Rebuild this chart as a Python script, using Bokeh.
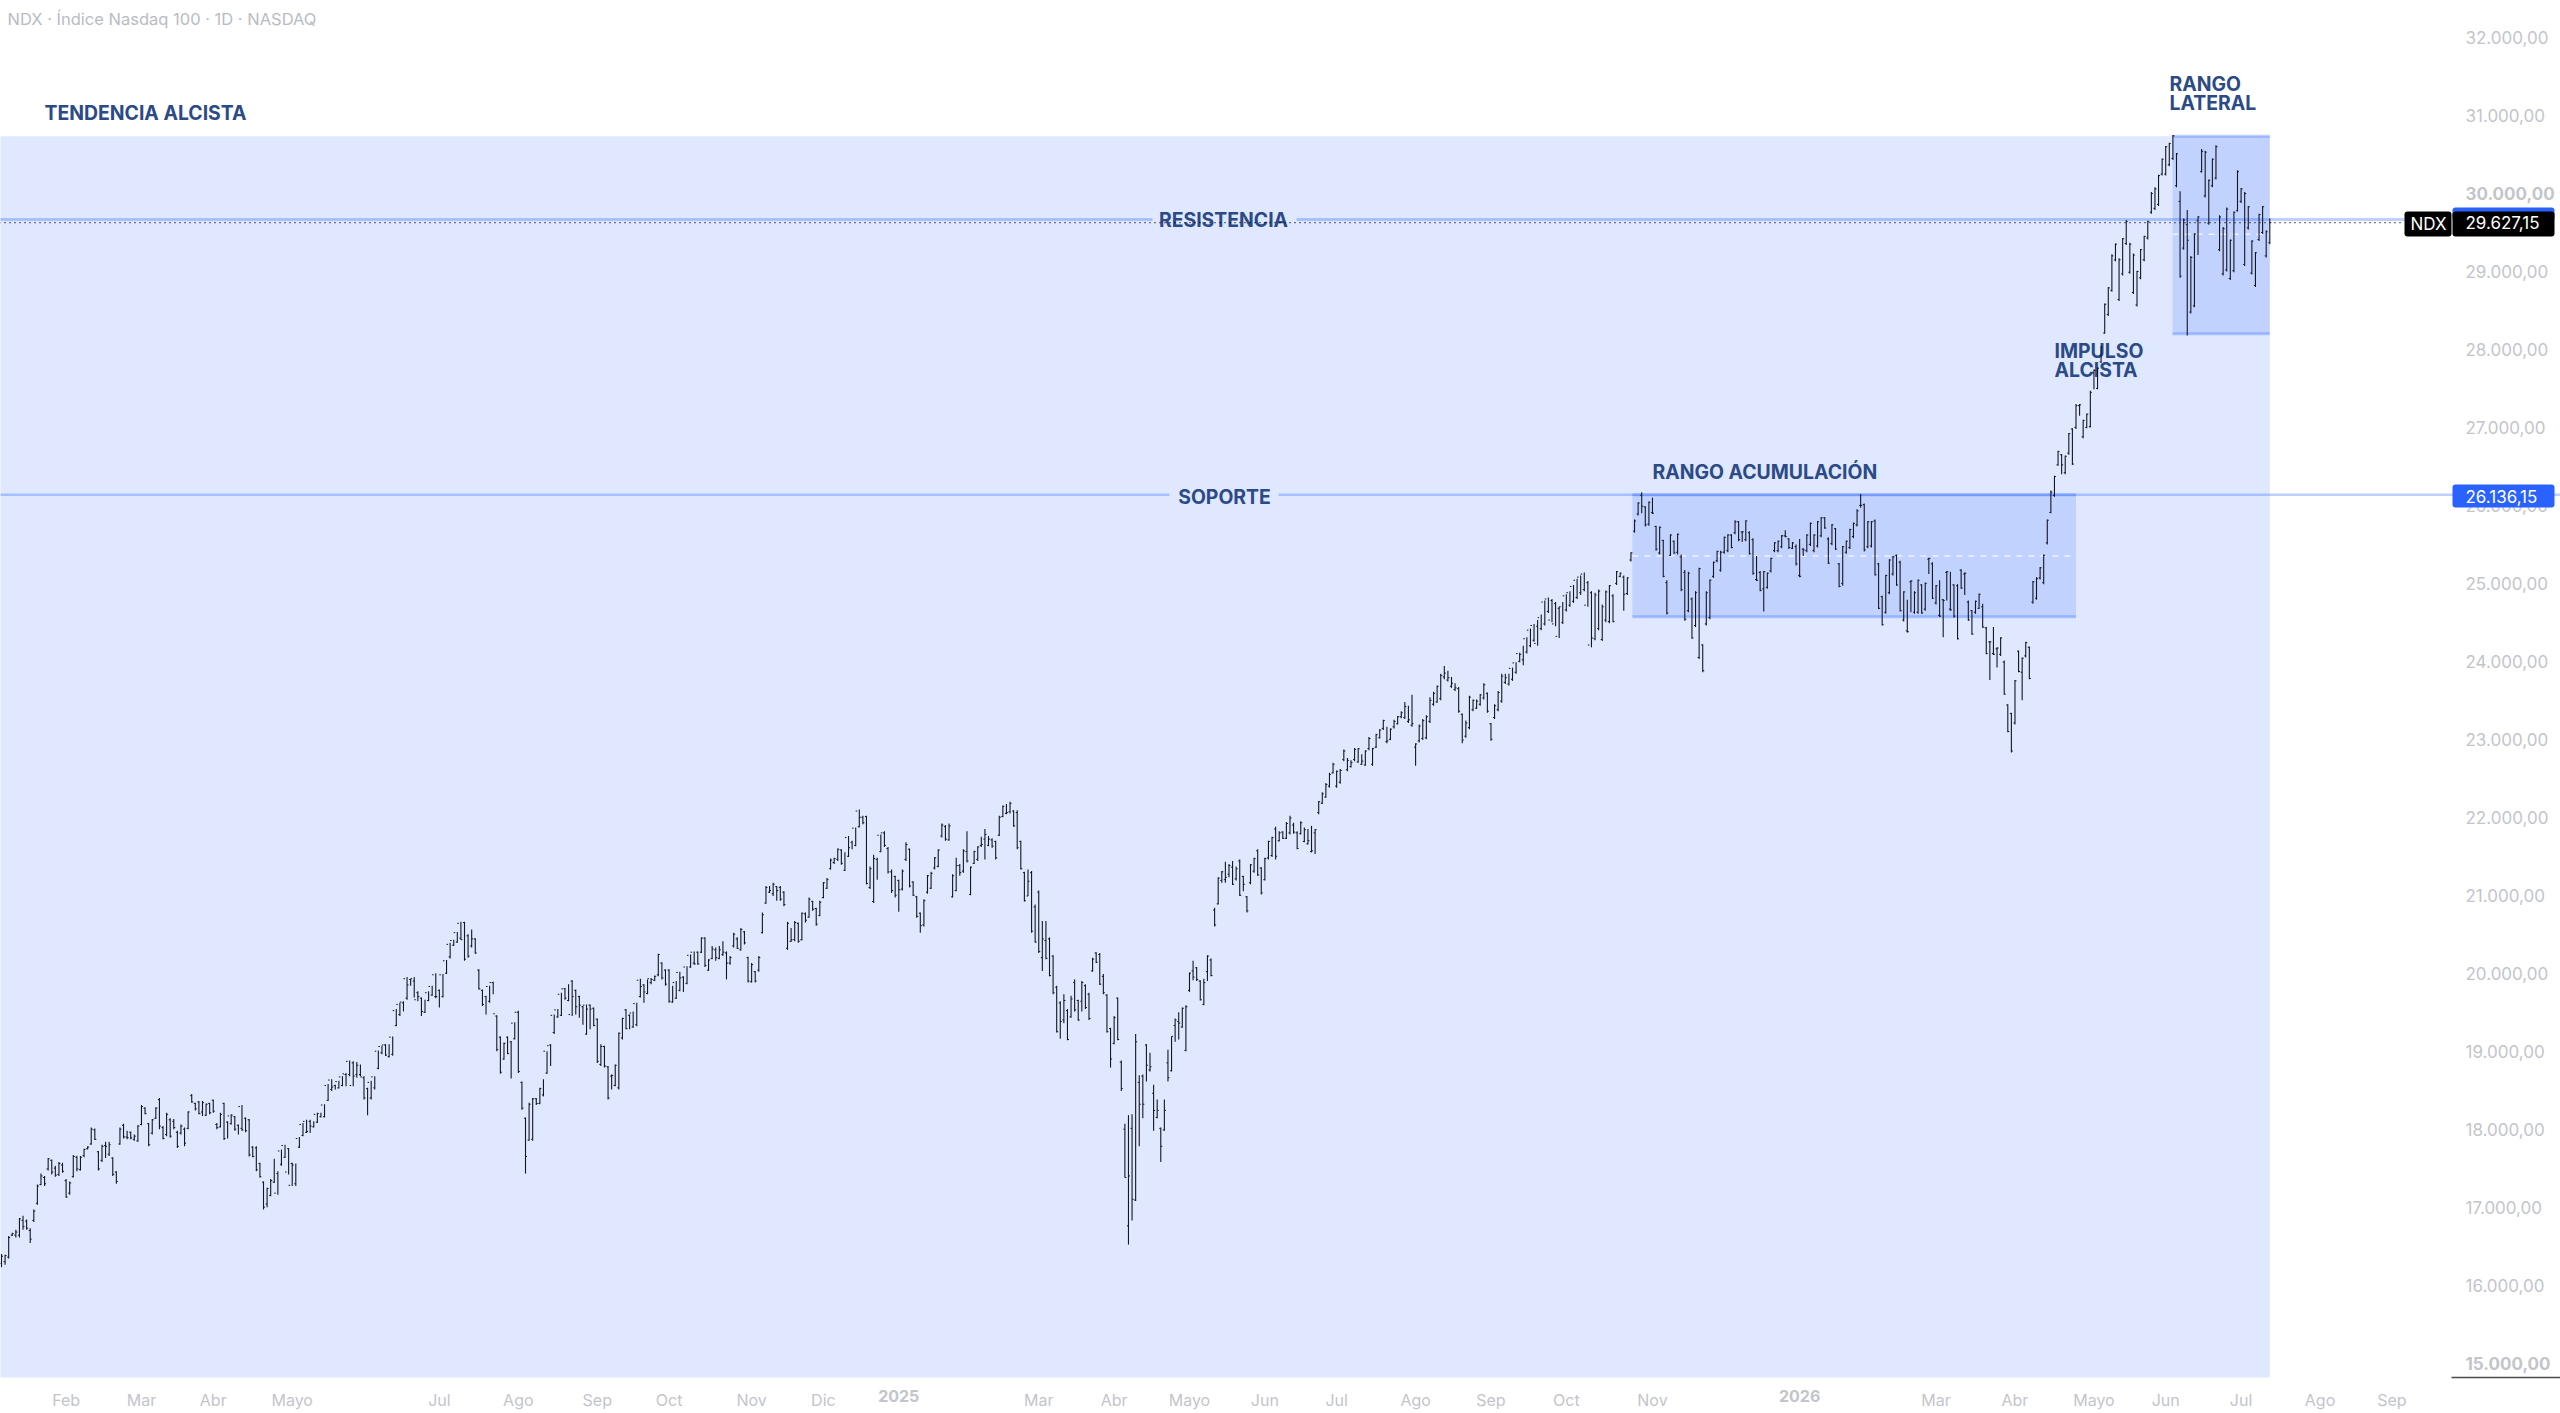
from bokeh.plotting import figure
from bokeh.embed import file_html
from bokeh.resources import INLINE
from bokeh.core.properties import value
from bokeh.models import Range1d, LinearAxis, FixedTicker, BoxAnnotation, Label

TITLE = "NDX · Índice Nasdaq 100 · 1D · NASDAQ"

highs = [
16400,16390,16630,16670,16710,16860,16890,16840,16730,16970,
17290,17430,17400,17630,17610,17530,17580,17570,17360,17330,
17670,17660,17655,17750,17780,18020,18010,17720,17800,17840,
17840,17640,17460,18020,18070,17980,17970,17930,18050,18310,
18280,18080,18130,18280,18400,18040,18210,18140,18130,17980,
18060,18020,18230,18450,18340,18360,18360,18330,18340,18380,
18080,18210,18340,18100,18190,18170,18060,18310,18150,18130,
17780,17780,17570,17330,17250,17360,17620,17460,17740,17800,
17760,17570,17560,17900,18080,18120,18120,18100,18210,18210,
18320,18580,18640,18570,18620,18680,18720,18880,18870,18860,
18830,18680,18530,18620,18680,19010,19070,19090,19090,19190,
19540,19620,19640,19950,19930,19950,19770,19690,19660,19770,
19840,20000,19790,19990,20170,20390,20430,20530,20660,20660,
20500,20560,20450,20050,19790,19710,19840,19890,19460,19190,
19110,19190,19130,19370,19520,18610,18150,18340,18400,18400,
18530,18640,19000,19090,19470,19540,19750,19810,19860,19910,
19790,19710,19580,19600,19600,19560,19420,19090,19070,18810,
18700,18830,19240,19430,19540,19470,19510,19620,19930,19860,
19920,19940,19970,20250,20140,20050,20050,19840,19900,20020,
19960,20090,20240,20280,20280,
20460,20460,20180,20350,20330,20350,20410,20280,20220,20520,
20460,20580,20540,20210,20130,20030,20220,20780,21120,21120,
21160,21120,21120,21050,20660,20580,20670,20650,20780,20780,
20970,20930,20840,20930,21170,21220,21470,21480,21600,21590,
21550,21760,21700,21870,22100,22020,22020,21370,21520,21480,
21780,21820,21620,21330,21250,21200,21330,21680,21600,21180,
20990,20780,20950,21260,21300,21490,21590,21920,21900,21920,
21270,21480,21400,21590,21820,21370,21570,21630,21750,21850,
21760,21730,21700,22020,22150,22170,22200,22090,22090,
21700,21300,21330,21310,20880,21060,20670,20670,20460,20230,
19840,19640,19730,19540,19710,19920,19660,19900,19860,19750,
20200,20270,20260,19990,19730,19300,19450,19690,18880,18070,
18180,18190,19220,18690,18700,19090,18980,18570,18380,18020,
18380,19020,19190,19420,19500,19560,19590,20010,20160,20080,
19910,19930,20230,20190,20840,21230,21310,21430,21400,21440,
21370,21460,21250,20990,21400,21480,21590,21360,21480,21700,
21750,21880,21820,21820,21940,22020,21930,21820,
21950,21870,21850,21890,21850,22210,22320,22440,22570,22700,
22600,22620,22870,22760,22730,22890,22890,22810,22860,23030,
22890,23070,23130,23250,23160,23140,23250,23300,23360,23480,
23430,23570,22950,23190,23260,23310,23540,23610,23690,23840,
23940,23880,23800,23720,23670,23330,23240,23560,23510,23510,
23580,23720,23600,23210,23450,23620,23840,23840,23840,23920,
23990,24110,
24200,24310,24420,24480,24530,24600,24780,24820,24800,24760,
24700,24760,24860,24900,24980,25060,25100,25140,25030,24900,
24880,24920,
24730,24910,24980,24860,25160,25140,25100,25080,25400,25820,
26040,26170,25990,26050,26100,25740,25730,25560,25040,25630,
25550,25640,25370,25170,25150,24820,24900,25200,24220,24900,
25050,25280,25420,25420,25600,25630,25630,25810,25800,25670,
25810,25670,25580,25350,25160,25160,25140,25330,25530,25550,
25620,25680,25580,25530,25500,25570,25450,25630,25780,25630,
25800,25850,25850,25590,25760,25710,25260,25480,25550,25700,
25780,25950,26145,26025,25800,25800,25820,25260,24840,25110,
25310,25350,25370,25290,24900,24790,25040,24900,25050,24990,
25010,25330,25270,24980,25040,24800,25160,25150,24990,24990,
25180,25140,24780,24660,24780,24870,24740,24440,24260,24440,
24180,24310,24010,23450,23340,23760,24140,24050,24250,24190,
25030,25080,25210,25370,25820,26190,26380,26700,26660,26640,
26930,26990,
27300,27300,27100,27180,27470,27745,27770,
28040,28590,28800,29220,29360,29170,29430,29660,29370,29230,
29010,29290,29460,29650,30020,30080,30240,30450,30610,30650,
30750,30520,30030,29680,29790,29200,29490,29710,30570,30550,
30180,30450,30620,29720,29570,29820,29410,29770,30300,30070,
30020,29840,29400,29250,29740,29840,29530,29680,
]

lows = [
16230,16260,16340,16630,16610,16610,16710,16710,16540,16810,
17030,17280,17270,17470,17420,17390,17400,17440,17120,17160,
17380,17460,17470,17640,17740,17800,17860,17470,17580,17630,
17655,17400,17300,17800,17880,17870,17870,17850,17840,18050,
18190,17780,17930,18130,18000,17870,17910,17890,18000,17760,
17930,17780,18000,18340,18240,18190,18170,18170,18190,18210,
18000,18020,17860,17880,18060,17980,17930,17980,17960,17650,
17640,17460,17380,16970,17000,17140,17310,17160,17530,17630,
17420,17270,17270,17760,17910,17950,17950,18020,18080,18150,
18150,18360,18490,18510,18520,18550,18550,18680,18550,18660,
18680,18380,18180,18380,18510,18770,18960,18940,18920,18940,
19320,19450,19510,19660,19840,19690,19640,19450,19490,19640,
19710,19680,19560,19690,19990,20190,20350,20390,20430,20160,
20200,20330,20250,19790,19580,19470,19620,19730,19000,18710,
18890,18960,18650,19150,18720,18250,17430,17850,17850,18310,
18320,18420,18710,18810,19220,19430,19450,19660,19640,19450,
19470,19430,19340,19210,19280,19320,18850,18810,18790,18380,
18510,18550,18510,19150,19280,19280,19300,19320,19690,19620,
19730,19860,19900,19960,19920,19840,19620,19620,19670,19770,
19760,19860,20070,20110,20110,
20260,20080,20030,20180,20160,20180,20220,19920,20110,20330,
20310,20290,20370,19880,19880,19880,20020,20510,20890,21030,
20990,20930,20930,20860,20300,20400,20410,20390,20420,20650,
20710,20800,20610,20730,20960,21080,21330,21400,21440,21390,
21310,21490,21590,21630,21870,21910,21140,21080,20900,21200,
21550,21620,21280,21030,20970,20790,21060,21440,21100,20990,
20710,20520,20600,21020,21080,21330,21360,21740,21700,21700,
20970,21050,21250,21290,21420,21000,21400,21440,21620,21460,
21630,21610,21460,21760,22000,22040,22050,21880,21590,
21330,20920,20990,20520,20390,20260,20030,20180,19960,19730,
19240,19160,19360,19140,19430,19510,19390,19510,19540,19400,
20020,20130,19850,19730,19240,18790,19090,19140,18490,17380,
16520,16830,17080,17780,18140,18610,18740,17980,18140,17580,
17980,18610,18740,19120,19150,19300,19000,19760,19910,19900,
19650,19590,19900,19960,20600,20880,21160,21160,21230,21130,
21190,20990,21050,20780,21140,21290,21250,21010,21190,21460,
21490,21460,21690,21720,21720,21780,21790,21590,
21780,21680,21650,21550,21530,22040,22170,22250,22380,22560,
22380,22430,22720,22590,22640,22720,22700,22670,22660,22860,
22660,22890,23010,23120,22950,22990,23140,23190,23270,23260,
23210,23160,22660,22960,22990,23000,23210,23430,23470,23500,
23770,23740,23660,23620,23340,22950,23020,23130,23360,23390,
23430,23510,23340,22980,23260,23360,23470,23710,23690,23750,
23840,23990,
23950,24100,24180,24250,24200,24400,24460,24620,24500,24450,
24300,24480,24640,24700,24750,24800,24850,24900,24700,24180,
24270,24400,
24260,24500,24490,24500,24980,25080,24650,24850,25280,25650,
25870,25900,25730,25740,25890,25420,25370,25080,24600,25350,
25380,25370,24900,24520,24630,24290,24440,24030,23860,24460,
24540,25070,25270,25150,25380,25400,25450,25630,25540,25530,
25540,25370,25110,25030,24900,24640,24930,25140,25400,25400,
25450,25590,25440,25440,25230,25080,25350,25400,25480,25400,
25460,25590,25700,25250,25490,25430,24950,24970,25380,25440,
25580,25730,25970,25410,25450,25460,25100,24670,24460,24610,
24860,25100,24970,24640,24510,24370,24630,24610,24610,24610,
24650,25120,24800,24730,24570,24310,24780,24650,24560,24280,
24930,24850,24520,24340,24610,24670,24430,24090,23760,24080,
23920,24070,23570,23090,22830,23190,23860,23500,24050,23770,
24740,24790,25050,24990,25500,25900,26110,26510,26400,26400,
26650,26520,
26980,27150,26860,26990,27000,27490,27490,
27830,28200,28430,28740,29130,28620,28950,29340,28970,28710,
28550,28900,29130,29410,29740,29790,29840,30230,30230,30350,
30430,30080,28920,29280,28180,28460,28540,29210,30270,29950,
29600,30080,30180,29260,28950,29000,28890,28990,29770,29880,
29070,29540,28960,28800,29390,29480,29180,29350,
]

opens = [
16280,16300,16360,16640,16640,16640,16830,16820,16700,16830,
17050,17290,17380,17490,17600,17500,17420,17540,17340,17180,
17390,17640,17480,17660,17750,17810,17990,17710,17600,17790,
17680,17630,17450,17810,18050,17900,17960,17870,17850,18060,
18270,18070,17950,18140,18380,18020,17930,18120,18100,17960,
17950,18000,18010,18430,18330,18350,18220,18180,18330,18370,
18060,18030,18330,18090,18070,18160,18050,18010,18140,18120,
17770,17760,17560,17320,17040,17150,17320,17430,17550,17640,
17750,17560,17300,17770,17920,17960,18100,18030,18090,18160,
18160,18370,18510,18560,18530,18560,18700,18700,18850,18700,
18700,18660,18520,18400,18530,18780,18980,19080,18930,18960,
19330,19470,19620,19680,19920,19900,19750,19680,19500,19650,
19720,19700,19780,19700,20000,20210,20360,20400,20450,20650,
20480,20350,20440,20040,19780,19700,19640,19880,19450,19180,
18900,19180,19120,19160,19500,18600,18140,17860,17870,18390,
18330,18440,18720,19080,19240,19440,19460,19800,19650,19900,
19780,19700,19570,19220,19590,19550,19410,18830,19060,18800,
18680,18560,18530,19170,19530,19460,19310,19340,19700,19850,
19740,19880,19910,19980,20130,20040,20040,19630,19680,19780,
19950,19870,20080,20130,20270,
20270,20450,20040,20190,20300,20190,20240,20260,20130,20350,
20440,20300,20530,20200,19890,20020,20040,20520,20900,21040,
21020,21110,21100,21040,20320,20410,20430,20640,20430,20760,
20720,20920,20830,20740,20970,21090,21340,21420,21460,21580,
21320,21500,21680,21640,21880,22000,22010,21100,20920,21460,
21560,21800,21600,21300,21240,21190,21080,21460,21590,21170,
20980,20770,20620,21040,21090,21350,21370,21760,21880,21710,
20980,21060,21380,21310,21560,21010,21410,21460,21640,21720,
21640,21710,21690,21770,22010,22050,22070,22080,22060,
21690,21290,20990,21290,20850,21040,20200,20420,20440,20220,
19820,19620,19400,19520,19440,19880,19650,19640,19840,19730,
20030,20260,20240,19960,19720,19290,19100,19680,18860,18000,
16760,18010,17090,18600,18680,19080,18760,18460,18150,18010,
17990,18850,18750,19330,19380,19310,19010,19780,20030,20070,
19900,19600,20020,20170,20810,20890,21190,21200,21270,21360,
21210,21440,21240,20980,21160,21310,21570,21350,21200,21480,
21510,21850,21700,21810,21730,21800,21900,21800,
21790,21690,21660,21560,21800,22060,22180,22260,22400,22570,
22400,22450,22740,22610,22650,22740,22710,22680,22670,22880,
22680,22900,23020,23140,22970,23000,23160,23200,23290,23280,
23230,23180,22900,22980,23010,23020,23230,23450,23480,23520,
23800,23760,23680,23640,23650,23320,23040,23150,23380,23400,
23450,23530,23590,23200,23280,23380,23490,23730,23710,23770,
23860,24000,
24020,24120,24200,24270,24450,24420,24480,24640,24780,24740,
24680,24500,24660,24720,24770,24820,24880,24920,25010,24880,
24290,24420,
24280,24530,24510,24840,25000,25090,25080,24870,25300,25670,
25890,26130,25980,25760,25910,25730,25390,25550,25010,25360,
25540,25400,25340,25140,24650,24800,24460,24050,24210,24480,
24560,25090,25290,25170,25400,25420,25620,25650,25790,25660,
25560,25650,25560,25050,25140,24930,24950,25160,25420,25420,
25470,25610,25570,25450,25470,25100,25440,25420,25500,25420,
25480,25610,25840,25570,25510,25700,25250,25000,25400,25460,
25600,25750,26000,26010,25470,25480,25800,25250,24830,24630,
24880,25120,25360,25270,24530,24390,25020,24630,24630,24980,
24670,25310,25250,24750,24590,24790,25140,24670,24980,24970,
25170,25120,24760,24650,24630,24680,24700,24430,24250,24100,
24160,24090,23990,23440,23330,23210,24130,23860,24070,24180,
24760,24810,25070,25010,25520,25910,26130,26520,26650,26420,
26670,26980,
27000,27280,26880,27000,27010,27700,27500,
27840,28210,28450,28760,29150,28640,28970,29360,28990,28730,
28570,28920,29150,29430,29760,29810,29860,30250,30250,30370,
30450,30100,29900,29300,29600,28480,28560,29650,30280,29970,
29620,30100,30200,29280,28970,29020,28910,29010,29780,29900,
29090,29560,28980,28820,29410,29500,29200,29370,
]

closes = [
16370,16380,16610,16660,16680,16850,16750,16730,16590,16950,
17270,17400,17300,17620,17450,17410,17560,17460,17130,17310,
17650,17490,17640,17740,17770,18000,17870,17490,17780,17780,
17800,17420,17330,18000,17900,17890,17890,17910,18040,18290,
18200,17800,18120,18270,18040,17880,18190,17910,18020,17780,
18040,17820,18220,18350,18260,18200,18340,18320,18210,18230,
18020,18190,17880,18170,18180,18000,18290,17990,17980,17670,
17650,17480,17390,17000,17240,17340,17180,17720,17790,17450,
17280,17540,17880,18060,18100,17970,18040,18190,18200,18310,
18560,18630,18540,18610,18670,18710,18870,18560,18680,18820,
18670,18400,18600,18670,19000,19060,19080,18950,19180,19520,
19600,19630,19930,19850,19930,19660,19700,19510,19750,19830,
19980,19700,19980,20160,20370,20420,20520,20640,20430,20180,
20220,20440,20260,19800,19600,19830,19880,19480,19020,18730,
19100,18970,19360,19500,18740,18270,17650,18320,18390,18330,
18520,19000,19070,19460,19530,19730,19800,19680,19470,19700,
19570,19590,19590,19540,19540,19330,18870,19060,18810,18400,
18690,18820,19230,19420,19290,19490,19610,19910,19830,19760,
19930,19920,19960,20240,19940,19860,19640,19880,20010,19940,
20080,20230,20270,20120,20120,
20450,20100,20170,20310,20200,20300,20270,20130,20200,20500,
20320,20560,20390,19900,20110,19900,20200,20750,21100,21060,
21140,21060,20950,20880,20640,20430,20650,20410,20770,20680,
20950,20820,20630,20910,21160,21200,21450,21470,21590,21410,
21740,21610,21860,22080,22000,21930,21150,21340,21470,21770,
21800,21640,21300,21060,21000,21070,21310,21650,21120,21000,
20730,20610,20930,21250,21280,21480,21580,21900,21720,21890,
21250,21380,21290,21570,21440,21360,21560,21620,21650,21780,
21720,21630,21480,22000,22140,22060,22180,21890,21610,
21340,20930,21180,20540,20400,20280,20440,20190,19970,19750,
19250,19380,19650,19150,19670,19530,19400,19880,19560,19420,
20180,20140,19860,19750,19250,18900,19430,19150,18520,17380,
17400,17100,19120,18320,18320,18820,18800,18240,18240,17780,
18240,18660,19190,19400,19360,19550,19570,20000,19950,19920,
19660,19880,20220,19970,20620,21220,21300,21230,21380,21140,
21340,21000,21140,20800,21390,21470,21260,21030,21470,21690,
21740,21500,21800,21730,21920,21990,21810,21600,
21930,21840,21700,21570,21840,22200,22300,22420,22550,22680,
22590,22600,22850,22730,22700,22870,22880,22720,22850,23010,
22880,23060,23120,23240,22980,23130,23230,23290,23340,23420,
23250,23200,22940,23170,23240,23290,23500,23590,23680,23820,
23850,23790,23720,23660,23360,22990,23210,23540,23500,23490,
23570,23700,23360,23000,23430,23600,23810,23790,23910,23980,
24100,24090,
24290,24400,24460,24230,24560,24760,24800,24530,24480,24320,
24700,24840,24880,24960,25040,25080,25120,24720,24210,24300,
24850,24900,
24700,24890,24970,24510,25150,25130,24860,25070,25390,25800,
26030,25990,25750,26040,25900,25440,25720,25090,24620,25620,
25390,25630,24920,24540,25130,24300,24880,25190,23880,24880,
25040,25270,25410,25400,25590,25620,25460,25790,25560,25660,
25800,25380,25130,25040,24910,25150,25130,25320,25520,25540,
25610,25600,25460,25520,25250,25090,25430,25620,25770,25620,
25790,25840,25710,25260,25750,25440,24960,25470,25540,25690,
25770,25930,26000,25430,25790,25790,25110,24680,24470,25100,
25300,25340,24980,24650,24890,24380,25030,24880,25040,24620,
25000,25320,24810,24970,24580,24780,25150,24660,24580,24290,
24940,25130,24530,24350,24770,24860,24440,24100,24250,24090,
24170,24300,23580,23100,22850,23750,23870,24040,24240,23780,
25020,25060,25200,25360,25810,26170,26370,26690,26520,26630,
26920,26530,
27280,27290,27090,27170,27450,27730,27760,
28030,28580,28790,29200,29350,29150,29420,29640,29350,29210,
29000,29280,29450,29640,30000,30060,30230,30440,30600,30640,
30740,30510,28940,29660,29400,29180,29480,29700,30540,30530,
30170,30440,30600,29700,29550,29800,29400,29760,30280,30060,
30000,29830,29390,29240,29730,29830,29510,29627.15,
]

price_ticks = [32000,31000,29000,28000,27000,26000,25000,24000,23000,22000,21000,20000,19000,18000,17000,16000]
bold_price_ticks = [30000,15000]
month_ticks = [18,39,59,81,122,144,166,186,209,229,289,310,331,352,372,394,415,436,460,539,561,583,603,624,646,666]
month_labels = ["Feb","Mar","Abr","Mayo","Jul","Ago","Sep","Oct","Nov","Dic","Mar","Abr","Mayo","Jun","Jul","Ago","Sep","Oct","Nov","Mar","Abr","Mayo","Jun","Jul","Ago","Sep"]
year_ticks = [250,501]
year_labels = ["2025","2026"]

zone_left = [454.4, 604.9]
zone_right = [578, 632]
zone_top = [26136.15, 30733]
zone_bottom = [24573, 28203]
zone_mid = [25350, 29478]
trend_top = 30733
resistance_level = 29666
support_level = 26136.15
last_price = 29627.15

N = min(len(highs), len(lows), len(opens), len(closes))
STEP = 2268.3 / (N - 1)
PX_PER_UNIT = 0.07797
Y_LOW = 14815
Y_HIGH = Y_LOW + 1377 / PX_PER_UNIT
INK = "#131722"
LABEL = "#2b4a86"
AXIS_TXT = "#c3c5ca"
BLUE = "#2962ff"

def xp(px):
    return (px - 1) / STEP

def yp(py):
    return Y_HIGH - py / PX_PER_UNIT

def price_label(v):
    return f"{v:,.2f}".replace(",", "X").replace(".", ",").replace("X", ".")

p = figure(width=2560, height=1413, output_backend="svg", toolbar_location=None,
           x_axis_type=None, y_axis_type=None,
           x_range=Range1d(xp(0), xp(2560)), y_range=Range1d(yp(1413), Y_HIGH),
           min_border=0, min_border_left=0, min_border_right=0, min_border_top=0, min_border_bottom=0,
           outline_line_color=None, background_fill_color="white", border_fill_color="white")

# axes
def add_y(ticks, style):
    ax = LinearAxis(ticker=FixedTicker(ticks=ticks),
                    major_label_overrides={t: price_label(t) for t in ticks},
                    fixed_location=xp(2451), axis_line_color=None,
                    major_tick_line_color=None, minor_tick_line_color=None,
                    major_tick_out=0, major_label_standoff=14,
                    major_label_text_font="Inter", major_label_text_font_size="17px",
                    major_label_text_color=AXIS_TXT, major_label_text_font_style=style)
    p.add_layout(ax, "right")

def add_x(ticks, labels, style):
    ax = LinearAxis(ticker=FixedTicker(ticks=ticks),
                    major_label_overrides=dict(zip(ticks, labels)),
                    fixed_location=Y_LOW, axis_line_color=None,
                    major_tick_line_color=None, minor_tick_line_color=None,
                    major_tick_out=0, major_label_standoff=12,
                    major_label_text_font="Inter", major_label_text_font_size="16px",
                    major_label_text_color=AXIS_TXT, major_label_text_font_style=style)
    p.add_layout(ax, "below")

add_y(price_ticks, "normal")
add_y(bold_price_ticks, "bold")
add_x(month_ticks, month_labels, "normal")
add_x(year_ticks, year_labels, "bold")

# zones
p.quad(left=xp(-6), right=N - 1, top=trend_top, bottom=Y_LOW, fill_color=BLUE, fill_alpha=0.15, line_color=None)
p.quad(left=zone_left, right=zone_right, top=zone_top, bottom=zone_bottom, fill_color=BLUE, fill_alpha=0.16, line_color=None)
p.segment(x0=zone_left + zone_left, x1=zone_right + zone_right, y0=zone_top + zone_bottom, y1=zone_top + zone_bottom,
          line_color=BLUE, line_alpha=0.3, line_width=3)
p.segment(x0=zone_left, x1=zone_right, y0=zone_mid, y1=zone_mid, line_color="white", line_alpha=0.75, line_width=1.5, line_dash="6 6")

# levels
res_x0 = [xp(-6), xp(1296)]
res_x1 = [xp(1152), xp(2404)]
sup_x0 = [xp(-6), xp(1278)]
sup_x1 = [xp(1169), xp(2566)]
p.segment(x0=res_x0, x1=res_x1, y0=resistance_level, y1=resistance_level, line_color=BLUE, line_alpha=0.3, line_width=3)
p.segment(x0=sup_x0, x1=sup_x1, y0=support_level, y1=support_level, line_color=BLUE, line_alpha=0.3, line_width=2.5)

# price-scale corner line
p.segment(x0=xp(2451), x1=xp(2566), y0=yp(1377), y1=yp(1377), line_color="#4a4a4a", line_width=1.5)

# texts
def txt(x, y, s, **kw):
    p.text(x=[xp(x)], y=[yp(y)], text=[s], text_font=value("Inter"), text_baseline="middle",
           text_font_size=kw.get("size", "19.4px"), text_font_style=kw.get("style", "bold"),
           text_color=kw.get("color", LABEL), text_align=kw.get("align", "left"))

txt(7, 18, TITLE, size="16.5px", style="normal", color="#b9bcc1")
txt(44, 112, "TENDENCIA ALCISTA")
txt(2169, 83, "RANGO")
txt(2169, 102, "LATERAL")
txt(2054, 350, "IMPULSO")
txt(2054, 369, "ALCISTA")
txt(1652, 471, "RANGO ACUMULACIÓN")
txt(1223, 219, "RESISTENCIA", align="center")
txt(1224, 496, "SOPORTE", align="center")

# last price dotted line
p.segment(x0=[xp(-6)], x1=[xp(2404)], y0=[last_price], y1=[last_price], line_color="black", line_width=1.2, line_dash="1 4")

# bars
xs = list(range(N))
p.segment(x0=xs, x1=xs, y0=lows[:N], y1=highs[:N], line_color=INK, line_width=1.1)
p.segment(x0=[i - 0.42 for i in xs], x1=xs, y0=opens[:N], y1=opens[:N], line_color=INK, line_width=1)
p.segment(x0=xs, x1=[i + 0.42 for i in xs], y0=closes[:N], y1=closes[:N], line_color=INK, line_width=1)

# tags
def tag(px0, px1, py0, py1, color, radius=3):
    p.add_layout(BoxAnnotation(left=xp(px0), right=xp(px1), top=yp(py0), bottom=yp(py1),
                               fill_color=color, fill_alpha=1, line_color=None, border_radius=radius))

def tag_text(px, py, s):
    p.add_layout(Label(x=xp(px), y=yp(py), text=s, text_color="white", text_font="Inter",
                       text_font_size="17px", text_baseline="middle", text_align="left"))

tag(2404, 2451, 211, 236, "#000000")
tag(2452, 2554, 207, 220, BLUE)
tag(2452, 2554, 211, 236, "#000000")
tag(2452, 2554, 484, 507, BLUE)
tag_text(2410, 223.5, "NDX")
tag_text(2465, 222, price_label(last_price))
tag_text(2465, 495.5, price_label(support_level))

open("out.html", "w").write(file_html(p, INLINE))
